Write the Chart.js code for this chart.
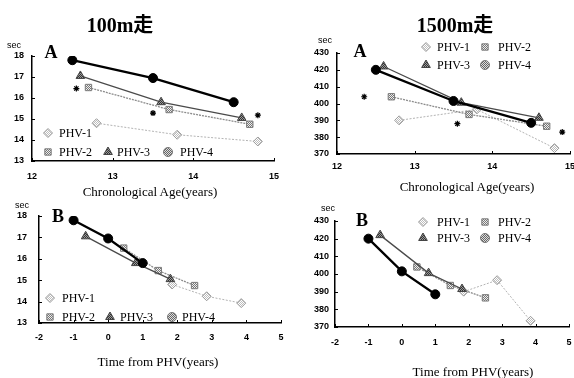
<!DOCTYPE html>
<html>
<head>
<meta charset="utf-8">
<script src="https://cdn.jsdelivr.net/npm/chart.js@4.4.1/dist/chart.umd.min.js"></script>
<style>
  body { margin: 0; background: #fff; }
  #page { position: relative; width: 574px; height: 378px; overflow: hidden; background: #fff; }
  canvas { position: absolute; }
  .lbl { position: absolute; transform: translate(-50%, -50%); white-space: nowrap; color: #000; line-height: 1; }
  .title { font: bold 20px "Liberation Serif", "Noto Sans CJK JP", serif; }
  .sec { font: 9px "Liberation Sans", sans-serif; }
  .panel { font: bold 18px "Liberation Serif", serif; }
  .axis { font: 13px "Liberation Serif", serif; }
</style>
</head>
<body>
<div id="page">
  <canvas id="c100a" style="left:0;top:0"></canvas>
  <canvas id="c1500a" style="left:290px;top:0"></canvas>
  <canvas id="c100b" style="left:0;top:190px"></canvas>
  <canvas id="c1500b" style="left:290px;top:190px"></canvas>

  <div class="lbl title" style="left:120px;top:23px">100m走</div>
  <div class="lbl title" style="left:455px;top:23px">1500m走</div>

  <div class="lbl sec" style="left:14px;top:45px">sec</div>
  <div class="lbl panel" style="left:51px;top:52px">A</div>
  <div class="lbl sec" style="left:325px;top:40px">sec</div>
  <div class="lbl panel" style="left:360px;top:51px">A</div>
  <div class="lbl sec" style="left:22px;top:205px">sec</div>
  <div class="lbl panel" style="left:58px;top:216px">B</div>
  <div class="lbl sec" style="left:328px;top:208px">sec</div>
  <div class="lbl panel" style="left:362px;top:220px">B</div>

  <div class="lbl axis" style="left:150px;top:192px">Chronological Age(years)</div>
  <div class="lbl axis" style="left:467px;top:187px">Chronological Age(years)</div>
  <div class="lbl axis" style="left:158px;top:362px">Time from PHV(years)</div>
  <div class="lbl axis" style="left:473px;top:372px">Time from PHV(years)</div>
</div>
<script>
// group names
const groupLabels = ['PHV-1', 'PHV-2', 'PHV-3', 'PHV-4'];

// chronological age at each test (years)
const agePHV1 = [12.8, 13.8, 14.8];
const agePHV2 = [12.7, 13.7, 14.7];
const agePHV3 = [12.6, 13.6, 14.6];
const agePHV4 = [12.5, 13.5, 14.5];

// time from PHV at each test (years)
const fromPHV1 = [1.85, 2.85, 3.85];
const fromPHV2 = [0.45, 1.45, 2.5];
const fromPHV3 = [-0.65, 0.8, 1.8];
const fromPHV4 = [-1, 0, 1];

// 100m times (sec)
const run100PHV1 = [14.8, 14.25, 13.93];
const run100PHV2 = [16.5, 15.45, 14.75];
const run100PHV3 = [17.05, 15.8, 15.05];
const run100PHV4 = [17.8, 16.95, 15.8];

// 1500m times (sec)
const run1500PHV1 = [390, 396.5, 373.5];
const run1500PHV2 = [404, 393.5, 386.5];
const run1500PHV3 = [422, 400.5, 391.5];
const run1500PHV4 = [420, 401.5, 388.5];

// significance marks (*)
const star100Age = [12.55, 13.5, 14.8];
const star100Sec = [16.45, 15.28, 15.18];
const star1500Age = [12.35, 13.55, 14.9];
const star1500Sec = [404, 388, 383];

// axis ranges
const ageRange = [12, 15];
const phvRange = [-2, 5];
const sec100Range = [13, 18];
const sec1500Range = [370, 430];

function pts(xs, ys) {
    return xs.map((x, i) => ({ x: x, y: ys[i] }));
}

function checker(a, b) {
    const c = document.createElement('canvas');
    c.width = 2; c.height = 2;
    const g = c.getContext('2d');
    g.fillStyle = a; g.fillRect(0, 0, 2, 2);
    g.fillStyle = b; g.fillRect(0, 0, 1, 1); g.fillRect(1, 1, 1, 1);
    return g.createPattern(c, 'repeat');
}

const looks = [
    { pointStyle: 'rectRot', r: 4.5, fill: checker('#fff', '#bdbdbd'), edge: '#9a9a9a', line: '#b3b3b3', width: 1, dash: [2, 1.5] },
    { pointStyle: 'rect', r: 4.5, fill: checker('#eee', '#777'), edge: '#7a7a7a', line: '#8c8c8c', width: 1.3, dash: [2, 1] },
    { pointStyle: 'triangle', r: 5, fill: checker('#999', '#333'), edge: '#444', line: '#4a4a4a', width: 1.3, dash: [] },
    { pointStyle: 'circle', r: 4.5, fill: '#000', edge: '#000', line: '#000', width: 2.3, dash: [], legendFill: checker('#ddd', '#666') }
];

function buildDatasets(xsets, ysets, starX, starY) {
    const ds = xsets.map((xs, i) => ({
        label: groupLabels[i],
        data: pts(xs, ysets[i]),
        showLine: true,
        borderColor: looks[i].line,
        borderWidth: looks[i].width,
        borderDash: looks[i].dash,
        pointStyle: looks[i].pointStyle,
        pointRadius: looks[i].r,
        pointBackgroundColor: looks[i].fill,
        pointBorderColor: looks[i].edge,
        pointBorderWidth: 1,
        legendFill: looks[i].legendFill,
        order: 4 - i
    }));
    if (starX) {
        ds.push({
            label: '*',
            data: pts(starX, starY),
            showLine: false,
            pointStyle: 'star',
            pointRadius: 3,
            pointBorderColor: '#000',
            pointBorderWidth: 1.2,
            order: 0
        });
    }
    return ds;
}

// legend drawn inside the plot
const insideLegend = {
    id: 'insideLegend',
    afterDatasetsDraw(chart, args, opts) {
        const ctx = chart.ctx;
        (opts.items || []).forEach((it, i) => {
            const ds = chart.data.datasets[i];
            ctx.save();
            ctx.fillStyle = ds.legendFill || ds.pointBackgroundColor;
            ctx.strokeStyle = ds.legendFill ? '#777' : ds.pointBorderColor;
            ctx.lineWidth = 1;
            Chart.helpers.drawPoint(ctx, { pointStyle: ds.pointStyle, radius: ds.pointRadius, borderWidth: 1, rotation: 0 }, it[0], it[1]);
            ctx.fillStyle = '#000';
            ctx.font = '12px "Liberation Serif"';
            ctx.textBaseline = 'middle';
            ctx.fillText(ds.label, it[2], it[1] + 1);
            ctx.restore();
        });
    }
};

// small tick marks pointing into the plot
const innerTicks = {
    id: 'innerTicks',
    afterDraw(chart) {
        const { ctx, chartArea: a, scales: { x, y } } = chart;
        ctx.save();
        ctx.strokeStyle = '#000';
        ctx.lineWidth = 1;
        ctx.beginPath();
        x.ticks.forEach(t => {
            const px = Math.round(x.getPixelForValue(t.value)) + 0.5;
            ctx.moveTo(px, a.bottom); ctx.lineTo(px, a.bottom - 3);
        });
        y.ticks.forEach(t => {
            const py = Math.round(y.getPixelForValue(t.value)) + 0.5;
            ctx.moveTo(a.left, py); ctx.lineTo(a.left + 3, py);
        });
        ctx.stroke();
        ctx.restore();
    }
};

function makeChart(id, w, h, box, xRange, yRange, yStep, datasets, legendItems) {
    const el = document.getElementById(id);
    el.width = w; el.height = h;
    el.style.width = w + 'px'; el.style.height = h + 'px';
    const tickFont = { family: 'Liberation Sans', size: 9, weight: 'bold' };
    return new Chart(el, {
        type: 'scatter',
        data: { datasets: datasets },
        options: {
            responsive: false,
            animation: false,
            events: [],
            layout: { padding: { left: 0, top: box.top, right: w - box.right, bottom: 0 } },
            plugins: {
                legend: { display: false },
                tooltip: { enabled: false },
                insideLegend: { items: legendItems }
            },
            scales: {
                x: {
                    type: 'linear',
                    min: xRange[0], max: xRange[1],
                    grid: { display: true, drawOnChartArea: false, drawTicks: false },
                    border: { display: true, color: '#000', width: 1.5 },
                    ticks: { stepSize: 1, color: '#000', font: tickFont, padding: box.xPad, maxRotation: 0 },
                    afterFit: s => { s.height = h - box.bottom; }
                },
                y: {
                    type: 'linear',
                    min: yRange[0], max: yRange[1],
                    grid: { display: true, drawOnChartArea: false, drawTicks: false },
                    border: { display: true, color: '#000', width: 1.5 },
                    ticks: { stepSize: yStep, color: '#000', font: tickFont, padding: box.yPad },
                    afterFit: s => { s.width = box.left; }
                }
            }
        },
        plugins: [insideLegend, innerTicks]
    });
}

makeChart('c100a', 290, 200,
    { left: 32, right: 274, top: 56, bottom: 161, xPad: 10, yPad: 8 },
    ageRange, sec100Range, 1,
    buildDatasets([agePHV1, agePHV2, agePHV3, agePHV4], [run100PHV1, run100PHV2, run100PHV3, run100PHV4], star100Age, star100Sec),
    [[48, 133, 59], [48, 152, 59], [108, 152, 117], [168, 152, 180]]);

makeChart('c1500a', 296, 200,
    { left: 47, right: 280, top: 53, bottom: 154, xPad: 7, yPad: 8 },
    ageRange, sec1500Range, 10,
    buildDatasets([agePHV1, agePHV2, agePHV3, agePHV4], [run1500PHV1, run1500PHV2, run1500PHV3, run1500PHV4], star1500Age, star1500Sec),
    [[136, 47, 147], [195, 47, 208], [136, 65, 147], [195, 65, 208]]);

makeChart('c100b', 294, 188,
    { left: 39, right: 281, top: 26, bottom: 133, xPad: 9, yPad: 12 },
    phvRange, sec100Range, 1,
    buildDatasets([fromPHV1, fromPHV2, fromPHV3, fromPHV4], [run100PHV1, run100PHV2, run100PHV3, run100PHV4]),
    [[50, 108, 62], [50, 127, 62], [110, 127, 120], [172, 127, 182]]);

makeChart('c1500b', 296, 188,
    { left: 45, right: 279, top: 31, bottom: 137, xPad: 10, yPad: 6 },
    phvRange, sec1500Range, 10,
    buildDatasets([fromPHV1, fromPHV2, fromPHV3, fromPHV4], [run1500PHV1, run1500PHV2, run1500PHV3, run1500PHV4]),
    [[133, 32, 147], [195, 32, 208], [133, 48, 147], [195, 48, 208]]);
</script>
</body>
</html>
